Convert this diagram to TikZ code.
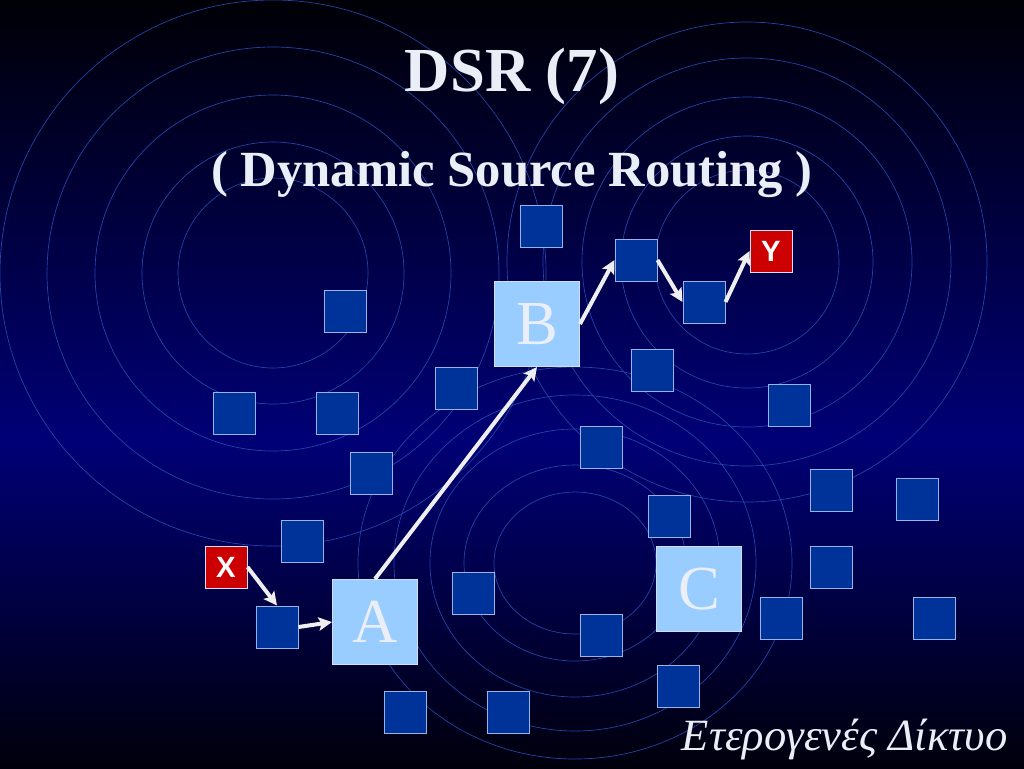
\documentclass[tikz,border=0pt]{standalone}
\usepackage{fontspec}
\setmainfont{Liberation Serif}
\newfontfamily\labelfont{Liberation Sans}
\usetikzlibrary{arrows.meta}
\definecolor{hostblue}{RGB}{0,51,153}
\definecolor{hostedge}{RGB}{150,180,230}
\definecolor{relayblue}{RGB}{153,204,255}
\definecolor{relayedge}{RGB}{205,225,250}
\definecolor{endred}{RGB}{204,0,0}
\definecolor{ringblue}{RGB}{36,70,170}
\definecolor{skytop}{RGB}{0,0,6}
\definecolor{skymid}{RGB}{0,0,118}
\definecolor{skybot}{RGB}{0,0,12}
\definecolor{arrowwhite}{RGB}{238,238,238}
\definecolor{letterwhite}{RGB}{234,238,246}

\begin{document}
\begin{tikzpicture}[x=0.75pt, y=-0.75pt,
        host/.style={draw=hostedge, fill=hostblue, line width=0.75pt, minimum size=31.5pt, inner sep=0pt},
        relay/.style={draw=relayedge, fill=relayblue, line width=0.75pt, minimum size=63.75pt, inner sep=0pt,
            text=letterwhite, font=\fontsize{47}{47}\selectfont},
        endpoint/.style={draw=relayedge, fill=endred, line width=0.75pt, minimum size=31.5pt, inner sep=0pt,
            text=white, font=\labelfont\bfseries\fontsize{22}{22}\selectfont},
        hop/.style={draw=arrowwhite, line width=3pt, -{Stealth[length=10pt,width=10pt,inset=2pt]}},
        ring/.style={draw=ringblue, line width=0.5pt}]

        \useasboundingbox (0,0) rectangle (1024,768);
        \shade [top color=skytop, bottom color=skymid] (0,0) rectangle (1024,440);
        \shade [top color=skymid, bottom color=skybot] (0,440) rectangle (1024,768);
        \clip (0,0) rectangle (1024,768);

        % radio ranges
        \foreach \r in {95,131,178,226,273}
            \draw [ring] (273,273) circle [radius=\r];
        \foreach \r in {92,126,165,204,240}
            \draw [ring] (747,262) circle [radius=\r];
        \foreach \rx/\ry in {81/71,111/98,145/134,181/168,217/196}
            \draw [ring] (575,563) circle [x radius=\rx, y radius=\ry];

        \node (title) [anchor=base, text=letterwhite, font=\bfseries\fontsize{47}{47}\selectfont] at (512,91) {DSR (7)};
        \node (subtitle) [anchor=base, text=letterwhite, font=\bfseries\fontsize{38}{38}\selectfont] at (512,186) {( Dynamic Source Routing )};

        \foreach \n/\x/\y in {1/541/226, 2/636/260, 3/704/302, 4/345/311, 5/456/388, 6/652/370,
                7/789/405, 8/234/413, 9/337/413, 10/371/473, 11/601/447, 12/831/490,
                13/917/499, 14/669/516, 15/302/541, 16/473/593, 17/831/567, 18/277/627,
                19/781/618, 20/934/618, 21/601/635, 22/678/686, 23/405/712, 24/508/712}
            \node (n\n) [host] at (\x,\y) {};

        \node (a) [relay] at (375,622) {A};
        \node (b) [relay] at (537,324) {B};
        \node (c) [relay] at (699,589) {C};
        \node (x) [endpoint] at (226,567) {X};
        \node (y) [endpoint] at (771,251) {Y};

        \draw [hop] (x.east) -- (n18.north);
        \draw [hop] (n18.east) -- (a.west);
        \draw [hop] (a.north) -- (b.south);
        \draw [hop] (b.east) -- (n2.west);
        \draw [hop] (n2.east) -- (n3.west);
        \draw [hop] (n3.east) -- (y.west);

        \node (footer) [anchor=base east, text=letterwhite, font=\itshape\fontsize{33.5}{33.5}\selectfont] at (1012,750) {Ετερογενές Δίκτυο};
    \end{tikzpicture}
\end{document}
